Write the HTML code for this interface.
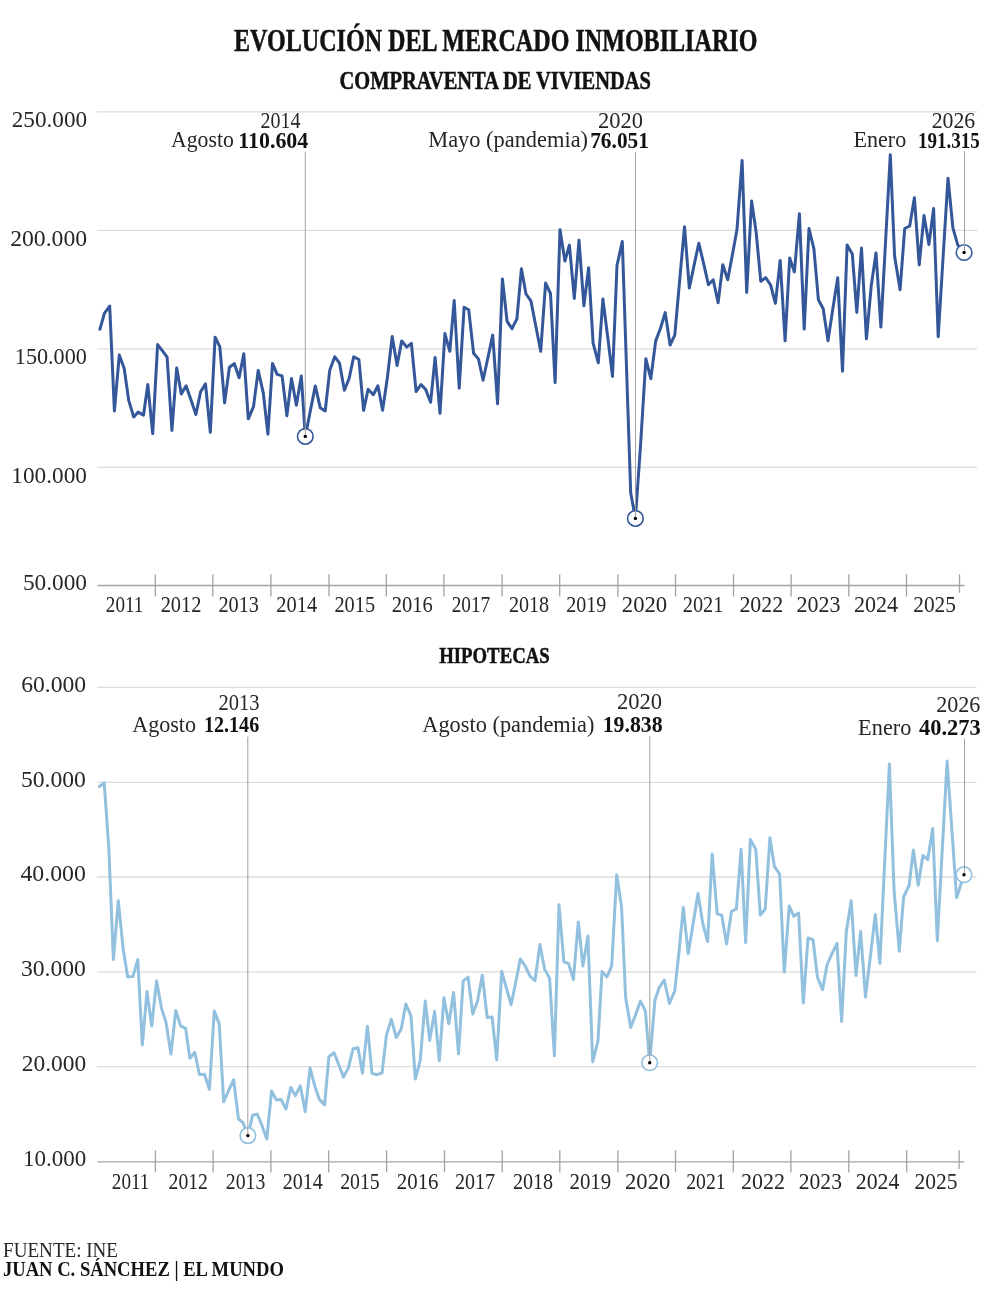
<!DOCTYPE html>
<html><head><meta charset="utf-8"><title>Evolución del mercado inmobiliario</title>
<style>html,body{margin:0;padding:0;background:#fff;}body{width:990px;height:1304px;overflow:hidden;font-family:"Liberation Serif",serif;}
svg{display:block;will-change:transform;}</style></head>
<body><svg width="990" height="1304" viewBox="0 0 990 1304">
<line x1="97" x2="977.2" y1="111.8" y2="111.8" stroke="#dcdcdc" stroke-width="1.3"/>
<line x1="97" x2="977.2" y1="230.4" y2="230.4" stroke="#dcdcdc" stroke-width="1.3"/>
<line x1="97" x2="977.2" y1="348.8" y2="348.8" stroke="#dcdcdc" stroke-width="1.3"/>
<line x1="97" x2="977.2" y1="467.4" y2="467.4" stroke="#dcdcdc" stroke-width="1.3"/>
<line x1="97.4" x2="964.7" y1="585.5" y2="585.5" stroke="#a3a3a3" stroke-width="1.3"/>
<line x1="155.3" x2="155.3" y1="574.2" y2="596.6" stroke="#a3a3a3" stroke-width="1.3"/>
<line x1="212.8" x2="212.8" y1="574.2" y2="596.6" stroke="#a3a3a3" stroke-width="1.3"/>
<line x1="270.9" x2="270.9" y1="574.2" y2="596.6" stroke="#a3a3a3" stroke-width="1.3"/>
<line x1="329.0" x2="329.0" y1="574.2" y2="596.6" stroke="#a3a3a3" stroke-width="1.3"/>
<line x1="386.3" x2="386.3" y1="574.2" y2="596.6" stroke="#a3a3a3" stroke-width="1.3"/>
<line x1="443.9" x2="443.9" y1="574.2" y2="596.6" stroke="#a3a3a3" stroke-width="1.3"/>
<line x1="502.1" x2="502.1" y1="574.2" y2="596.6" stroke="#a3a3a3" stroke-width="1.3"/>
<line x1="559.7" x2="559.7" y1="574.2" y2="596.6" stroke="#a3a3a3" stroke-width="1.3"/>
<line x1="617.9" x2="617.9" y1="574.2" y2="596.6" stroke="#a3a3a3" stroke-width="1.3"/>
<line x1="675.5" x2="675.5" y1="574.2" y2="596.6" stroke="#a3a3a3" stroke-width="1.3"/>
<line x1="733.5" x2="733.5" y1="574.2" y2="596.6" stroke="#a3a3a3" stroke-width="1.3"/>
<line x1="791.1" x2="791.1" y1="574.2" y2="596.6" stroke="#a3a3a3" stroke-width="1.3"/>
<line x1="848.8" x2="848.8" y1="574.2" y2="596.6" stroke="#a3a3a3" stroke-width="1.3"/>
<line x1="906.5" x2="906.5" y1="574.2" y2="596.6" stroke="#a3a3a3" stroke-width="1.3"/>
<line x1="959.5" x2="959.5" y1="574.2" y2="592.8" stroke="#a3a3a3" stroke-width="1.3"/>
<line x1="97" x2="976.4" y1="687.4" y2="687.4" stroke="#dcdcdc" stroke-width="1.3"/>
<line x1="97" x2="976.4" y1="782.4" y2="782.4" stroke="#dcdcdc" stroke-width="1.3"/>
<line x1="97" x2="976.4" y1="877.0" y2="877.0" stroke="#dcdcdc" stroke-width="1.3"/>
<line x1="97" x2="976.4" y1="971.8" y2="971.8" stroke="#dcdcdc" stroke-width="1.3"/>
<line x1="97" x2="976.4" y1="1066.6" y2="1066.6" stroke="#dcdcdc" stroke-width="1.3"/>
<line x1="97.4" x2="964.3" y1="1161.8" y2="1161.8" stroke="#a3a3a3" stroke-width="1.3"/>
<line x1="155.4" x2="155.4" y1="1150.3" y2="1172.4" stroke="#a3a3a3" stroke-width="1.3"/>
<line x1="213.1" x2="213.1" y1="1150.3" y2="1172.4" stroke="#a3a3a3" stroke-width="1.3"/>
<line x1="270.9" x2="270.9" y1="1150.3" y2="1172.4" stroke="#a3a3a3" stroke-width="1.3"/>
<line x1="328.7" x2="328.7" y1="1150.3" y2="1172.4" stroke="#a3a3a3" stroke-width="1.3"/>
<line x1="386.6" x2="386.6" y1="1150.3" y2="1172.4" stroke="#a3a3a3" stroke-width="1.3"/>
<line x1="444.5" x2="444.5" y1="1150.3" y2="1172.4" stroke="#a3a3a3" stroke-width="1.3"/>
<line x1="502.2" x2="502.2" y1="1150.3" y2="1172.4" stroke="#a3a3a3" stroke-width="1.3"/>
<line x1="559.8" x2="559.8" y1="1150.3" y2="1172.4" stroke="#a3a3a3" stroke-width="1.3"/>
<line x1="617.9" x2="617.9" y1="1150.3" y2="1172.4" stroke="#a3a3a3" stroke-width="1.3"/>
<line x1="675.5" x2="675.5" y1="1150.3" y2="1172.4" stroke="#a3a3a3" stroke-width="1.3"/>
<line x1="733.3" x2="733.3" y1="1150.3" y2="1172.4" stroke="#a3a3a3" stroke-width="1.3"/>
<line x1="790.9" x2="790.9" y1="1150.3" y2="1172.4" stroke="#a3a3a3" stroke-width="1.3"/>
<line x1="848.8" x2="848.8" y1="1150.3" y2="1172.4" stroke="#a3a3a3" stroke-width="1.3"/>
<line x1="906.7" x2="906.7" y1="1150.3" y2="1172.4" stroke="#a3a3a3" stroke-width="1.3"/>
<line x1="959.1" x2="959.1" y1="1150.3" y2="1169" stroke="#a3a3a3" stroke-width="1.3"/>
<polyline points="99.9,329.3 104.4,313.4 109.7,306.0 114.4,410.9 119.3,355.0 124.2,368.5 128.7,400.4 133.7,417.0 138.2,412.1 143.5,415.2 147.8,384.5 152.7,433.6 157.6,344.6 162.3,350.7 167.1,357.2 171.9,430.5 176.7,367.9 181.3,394.0 186.1,385.7 191.0,400.1 195.9,414.5 200.6,391.8 205.5,383.9 210.3,432.3 215.1,337.2 219.8,346.7 224.6,402.9 229.4,367.3 234.3,363.6 239.1,377.7 243.8,353.7 248.3,418.8 253.5,406.6 258.2,370.4 263.3,393.1 267.9,434.2 272.5,363.4 277.1,374.4 282.1,375.9 286.9,415.8 291.5,378.6 296.4,405.3 301.3,375.9 305.3,436.4 310.3,411.0 315.3,385.9 320.2,407.7 325.2,411.0 329.7,370.6 334.7,356.7 339.5,363.2 344.4,390.2 349.1,378.5 353.7,356.7 358.9,359.5 363.6,410.4 368.1,389.3 373.3,394.7 377.9,385.8 382.6,410.2 387.3,378.3 392.2,336.6 397.1,365.5 401.7,340.9 406.7,347.1 411.4,343.4 416.1,391.6 421.0,384.5 425.6,389.4 430.6,402.3 435.1,357.5 440.0,413.3 444.9,333.6 449.8,351.3 454.2,300.5 459.2,388.2 464.1,307.2 468.7,309.7 473.6,353.3 478.5,359.1 483.1,380.2 487.9,357.7 492.7,335.1 497.6,403.8 502.4,279.0 507.1,321.3 512.0,328.7 516.9,318.9 521.4,268.8 526.0,294.0 530.9,300.9 535.8,326.0 540.7,351.3 545.6,283.1 550.5,293.5 555.1,382.6 560.0,229.7 564.9,261.0 569.4,245.1 574.3,298.4 579.0,240.2 583.9,305.8 588.6,267.8 593.1,343.2 598.3,362.9 602.9,299.0 607.8,337.8 612.5,376.4 617.0,265.4 622.3,241.5 626.8,376.0 630.7,493.0 635.4,518.4 640.5,446.0 645.9,358.8 650.8,378.7 655.7,340.9 660.6,328.0 665.2,312.6 670.1,345.0 674.8,335.1 679.6,281.0 684.5,226.7 689.3,288.1 694.0,265.6 698.8,243.2 703.7,263.8 708.4,284.7 713.2,279.8 718.1,302.8 722.8,264.8 727.7,279.8 732.3,255.2 737.0,229.5 742.1,160.4 746.7,292.4 751.6,200.9 756.1,232.0 760.8,281.3 765.7,277.6 770.6,285.0 775.4,303.4 780.2,260.4 785.1,340.8 789.7,258.0 794.4,271.9 799.4,213.8 804.2,329.1 809.0,228.5 813.9,248.8 818.4,299.8 823.2,308.8 828.0,340.8 832.8,309.1 837.7,277.7 842.5,371.2 847.1,244.9 852.3,254.1 856.8,312.4 861.5,248.0 866.4,338.8 871.3,285.4 876.0,252.9 880.9,327.1 885.6,241.0 890.3,154.7 894.6,256.3 900.1,289.7 904.7,228.5 909.7,226.0 914.4,197.8 919.2,264.9 924.0,215.6 928.9,244.5 933.6,208.6 938.2,336.7 943.1,257.0 948.0,178.2 952.9,227.9 957.8,245.1 964.1,252.5" fill="none" stroke="#34579a" stroke-width="3" stroke-linejoin="round" stroke-linecap="round"/>
<polyline points="99.3,786.6 104.2,782.9 108.8,848.0 113.4,959.6 118.3,900.7 123.1,948.6 127.6,976.8 132.9,976.6 137.8,959.6 142.3,1044.9 147.0,991.5 151.7,1025.9 156.6,981.1 161.5,1008.1 166.0,1022.2 170.9,1054.1 175.8,1010.6 180.7,1025.9 185.6,1028.3 189.9,1058.4 194.8,1052.3 199.4,1074.5 204.5,1074.2 209.4,1089.3 214.3,1011.0 219.2,1023.9 223.7,1101.8 228.6,1090.5 233.6,1079.8 238.5,1119.0 243.0,1122.7 247.9,1135.6 252.6,1115.3 257.2,1114.1 261.8,1125.0 266.8,1139.0 271.6,1091.0 276.5,1100.0 281.0,1099.4 285.9,1109.2 290.8,1087.4 295.4,1095.7 300.3,1085.9 305.2,1111.7 310.1,1068.1 314.8,1085.9 319.4,1099.4 324.6,1104.9 328.9,1056.7 334.0,1052.8 338.8,1064.8 343.5,1077.1 348.4,1067.9 353.1,1048.7 358.0,1047.7 362.5,1073.2 367.4,1026.2 372.0,1073.4 377.2,1074.7 382.1,1072.8 386.4,1035.4 391.3,1019.2 396.3,1037.6 401.2,1029.0 405.8,1004.1 411.0,1015.8 415.3,1079.0 420.2,1060.6 425.2,1001.1 429.7,1040.4 434.6,1011.5 439.3,1060.6 443.9,997.8 448.8,1023.8 453.6,992.5 458.5,1053.9 463.2,980.9 468.1,977.2 472.8,1014.0 477.5,1001.3 482.3,975.2 487.2,1017.5 492.1,1016.9 496.7,1059.9 501.7,971.3 506.4,988.1 511.1,1004.7 515.8,982.0 520.3,959.0 525.2,966.0 530.1,976.4 535.0,980.7 539.9,944.5 544.6,969.1 549.6,978.3 554.4,1055.8 559.0,904.7 563.9,961.8 568.5,963.4 573.4,979.6 578.3,921.9 582.9,966.1 587.9,936.0 592.7,1061.8 598.0,1041.0 602.0,971.6 606.9,977.1 611.7,965.8 616.7,874.7 621.6,907.2 625.6,997.5 630.7,1027.5 635.7,1014.5 640.5,1001.1 645.4,1011.2 649.7,1062.7 654.9,1000.3 659.1,987.7 664.3,980.2 669.4,1003.4 674.7,991.0 679.0,952.0 683.3,907.4 688.2,953.5 693.1,923.7 698.0,893.6 702.7,923.1 707.6,941.5 712.2,854.1 717.2,913.9 721.7,915.1 726.6,943.9 731.5,911.4 736.4,909.0 741.1,849.2 745.6,942.7 750.4,839.5 755.8,849.4 760.3,915.1 765.2,909.0 769.9,837.8 774.4,866.6 779.6,874.0 784.3,972.1 789.2,905.9 793.8,916.3 798.6,913.0 803.3,1003.1 808.0,938.0 813.0,939.7 817.5,977.5 822.6,989.6 827.1,964.5 832.1,953.4 837.0,943.4 841.6,1021.5 846.3,932.0 851.2,900.7 856.0,975.5 860.6,931.4 865.5,997.1 870.3,956.7 875.3,914.4 879.9,963.4 884.6,864.0 889.4,764.1 894.1,891.0 899.3,951.2 903.6,897.0 909.1,885.5 913.4,850.0 918.2,885.2 922.9,855.4 927.7,859.7 932.7,828.6 937.3,940.7 942.2,851.0 947.1,761.1 951.8,828.6 956.6,897.7 964.0,874.7" fill="none" stroke="#92c0df" stroke-width="3" stroke-linejoin="round" stroke-linecap="round"/>
<circle cx="305.3" cy="436.4" r="7.8" fill="#fff" stroke="#34579a" stroke-width="1.6"/>
<line x1="305.3" x2="305.3" y1="151.5" y2="436.4" stroke="#a0a0a0" stroke-width="1"/>
<circle cx="305.3" cy="436.4" r="1.7" fill="#000"/>
<circle cx="635.4" cy="518.4" r="7.8" fill="#fff" stroke="#34579a" stroke-width="1.6"/>
<line x1="635.5" x2="635.5" y1="152.0" y2="518.4" stroke="#a0a0a0" stroke-width="1"/>
<circle cx="635.4" cy="518.4" r="1.7" fill="#000"/>
<circle cx="964.1" cy="252.5" r="7.8" fill="#fff" stroke="#34579a" stroke-width="1.6"/>
<line x1="964.5" x2="964.5" y1="151.2" y2="252.5" stroke="#a0a0a0" stroke-width="1"/>
<circle cx="964.1" cy="252.5" r="1.7" fill="#000"/>
<circle cx="247.9" cy="1135.6" r="7.8" fill="#fff" stroke="#92c0df" stroke-width="1.6"/>
<line x1="247.8" x2="247.8" y1="736.7" y2="1135.6" stroke="#a0a0a0" stroke-width="1"/>
<circle cx="247.9" cy="1135.6" r="1.7" fill="#000"/>
<circle cx="649.7" cy="1062.7" r="7.8" fill="#fff" stroke="#92c0df" stroke-width="1.6"/>
<line x1="649.8" x2="649.8" y1="736.2" y2="1062.7" stroke="#a0a0a0" stroke-width="1"/>
<circle cx="649.7" cy="1062.7" r="1.7" fill="#000"/>
<circle cx="964.0" cy="874.7" r="7.8" fill="#fff" stroke="#92c0df" stroke-width="1.6"/>
<line x1="964.5" x2="964.5" y1="738.8" y2="874.7" stroke="#a0a0a0" stroke-width="1"/>
<circle cx="964.0" cy="874.7" r="1.7" fill="#000"/>
<g font-family="'Liberation Serif', serif" fill="#262626">
<text x="234.01" y="50.60" font-size="31.00" font-weight="bold" fill="#111" stroke="#111" stroke-width="0.5" textLength="523.38" lengthAdjust="spacingAndGlyphs">EVOLUCIÓN DEL MERCADO INMOBILIARIO</text>
<text x="339.56" y="88.70" font-size="24.50" font-weight="bold" fill="#111" stroke="#111" stroke-width="0.5" textLength="311.30" lengthAdjust="spacingAndGlyphs">COMPRAVENTA DE VIVIENDAS</text>
<text x="439.17" y="663.40" font-size="23.60" font-weight="bold" fill="#111" stroke="#111" stroke-width="0.5" textLength="110.54" lengthAdjust="spacingAndGlyphs">HIPOTECAS</text>
<text x="11.78" y="127.30" font-size="24.00" textLength="75.27" lengthAdjust="spacingAndGlyphs">250.000</text>
<text x="10.13" y="245.90" font-size="24.00" textLength="77.02" lengthAdjust="spacingAndGlyphs">200.000</text>
<text x="14.86" y="364.40" font-size="24.00" textLength="71.94" lengthAdjust="spacingAndGlyphs">150.000</text>
<text x="11.34" y="483.00" font-size="24.00" textLength="75.59" lengthAdjust="spacingAndGlyphs">100.000</text>
<text x="22.98" y="589.80" font-size="24.00" textLength="64.05" lengthAdjust="spacingAndGlyphs">50.000</text>
<text x="21.14" y="691.50" font-size="24.00" textLength="65.05" lengthAdjust="spacingAndGlyphs">60.000</text>
<text x="20.98" y="786.50" font-size="24.00" textLength="64.92" lengthAdjust="spacingAndGlyphs">50.000</text>
<text x="20.47" y="881.30" font-size="24.00" textLength="65.40" lengthAdjust="spacingAndGlyphs">40.000</text>
<text x="20.97" y="976.00" font-size="24.00" textLength="64.94" lengthAdjust="spacingAndGlyphs">30.000</text>
<text x="21.78" y="1070.70" font-size="24.00" textLength="64.36" lengthAdjust="spacingAndGlyphs">20.000</text>
<text x="22.89" y="1165.70" font-size="24.00" textLength="63.31" lengthAdjust="spacingAndGlyphs">10.000</text>
<text x="105.84" y="612.40" font-size="24.00" textLength="37.52" lengthAdjust="spacingAndGlyphs">2011</text>
<text x="160.65" y="612.40" font-size="24.00" textLength="40.75" lengthAdjust="spacingAndGlyphs">2012</text>
<text x="218.46" y="612.40" font-size="24.00" textLength="40.56" lengthAdjust="spacingAndGlyphs">2013</text>
<text x="276.26" y="612.40" font-size="24.00" textLength="40.87" lengthAdjust="spacingAndGlyphs">2014</text>
<text x="334.46" y="612.40" font-size="24.00" textLength="40.58" lengthAdjust="spacingAndGlyphs">2015</text>
<text x="391.85" y="612.40" font-size="24.00" textLength="40.95" lengthAdjust="spacingAndGlyphs">2016</text>
<text x="451.63" y="612.40" font-size="24.00" textLength="38.63" lengthAdjust="spacingAndGlyphs">2017</text>
<text x="508.90" y="612.40" font-size="24.00" textLength="40.22" lengthAdjust="spacingAndGlyphs">2018</text>
<text x="566.27" y="612.40" font-size="24.00" textLength="40.02" lengthAdjust="spacingAndGlyphs">2019</text>
<text x="621.85" y="612.40" font-size="24.00" textLength="45.37" lengthAdjust="spacingAndGlyphs">2020</text>
<text x="682.85" y="612.40" font-size="24.00" textLength="40.56" lengthAdjust="spacingAndGlyphs">2021</text>
<text x="739.38" y="612.40" font-size="24.00" textLength="43.94" lengthAdjust="spacingAndGlyphs">2022</text>
<text x="796.45" y="612.40" font-size="24.00" textLength="43.92" lengthAdjust="spacingAndGlyphs">2023</text>
<text x="853.90" y="612.40" font-size="24.00" textLength="44.11" lengthAdjust="spacingAndGlyphs">2024</text>
<text x="913.23" y="612.40" font-size="24.00" textLength="42.64" lengthAdjust="spacingAndGlyphs">2025</text>
<text x="111.84" y="1189.30" font-size="24.00" textLength="37.52" lengthAdjust="spacingAndGlyphs">2011</text>
<text x="168.58" y="1189.30" font-size="24.00" textLength="39.35" lengthAdjust="spacingAndGlyphs">2012</text>
<text x="225.77" y="1189.30" font-size="24.00" textLength="39.48" lengthAdjust="spacingAndGlyphs">2013</text>
<text x="282.68" y="1189.30" font-size="24.00" textLength="40.07" lengthAdjust="spacingAndGlyphs">2014</text>
<text x="340.18" y="1189.30" font-size="24.00" textLength="39.60" lengthAdjust="spacingAndGlyphs">2015</text>
<text x="396.82" y="1189.30" font-size="24.00" textLength="41.68" lengthAdjust="spacingAndGlyphs">2016</text>
<text x="454.94" y="1189.30" font-size="24.00" textLength="40.03" lengthAdjust="spacingAndGlyphs">2017</text>
<text x="512.89" y="1189.30" font-size="24.00" textLength="40.25" lengthAdjust="spacingAndGlyphs">2018</text>
<text x="569.45" y="1189.30" font-size="24.00" textLength="41.82" lengthAdjust="spacingAndGlyphs">2019</text>
<text x="624.99" y="1189.30" font-size="24.00" textLength="45.34" lengthAdjust="spacingAndGlyphs">2020</text>
<text x="686.26" y="1189.30" font-size="24.00" textLength="39.32" lengthAdjust="spacingAndGlyphs">2021</text>
<text x="741.05" y="1189.30" font-size="24.00" textLength="43.99" lengthAdjust="spacingAndGlyphs">2022</text>
<text x="798.84" y="1189.30" font-size="24.00" textLength="43.09" lengthAdjust="spacingAndGlyphs">2023</text>
<text x="855.83" y="1189.30" font-size="24.00" textLength="43.59" lengthAdjust="spacingAndGlyphs">2024</text>
<text x="914.42" y="1189.30" font-size="24.00" textLength="43.02" lengthAdjust="spacingAndGlyphs">2025</text>
<text x="260.39" y="127.50" font-size="23.20" textLength="40.02" lengthAdjust="spacingAndGlyphs">2014</text>
<text x="171.00" y="147.40" font-size="23.10" textLength="62.84" lengthAdjust="spacingAndGlyphs">Agosto</text>
<text x="238.17" y="147.60" font-size="23.70" font-weight="bold" fill="#111" textLength="70.19" lengthAdjust="spacingAndGlyphs">110.604</text>
<text x="597.93" y="127.50" font-size="23.20" textLength="44.95" lengthAdjust="spacingAndGlyphs">2020</text>
<text x="428.25" y="147.40" font-size="23.10" textLength="159.78" lengthAdjust="spacingAndGlyphs">Mayo (pandemia)</text>
<text x="590.20" y="147.60" font-size="23.70" font-weight="bold" fill="#111" textLength="58.74" lengthAdjust="spacingAndGlyphs">76.051</text>
<text x="931.65" y="127.50" font-size="23.20" textLength="43.57" lengthAdjust="spacingAndGlyphs">2026</text>
<text x="853.54" y="147.40" font-size="23.10" textLength="52.66" lengthAdjust="spacingAndGlyphs">Enero</text>
<text x="917.99" y="147.60" font-size="23.70" font-weight="bold" fill="#111" textLength="61.82" lengthAdjust="spacingAndGlyphs">191.315</text>
<text x="218.38" y="709.60" font-size="23.20" textLength="41.07" lengthAdjust="spacingAndGlyphs">2013</text>
<text x="132.22" y="732.30" font-size="23.10" textLength="63.84" lengthAdjust="spacingAndGlyphs">Agosto</text>
<text x="203.88" y="732.20" font-size="23.70" font-weight="bold" fill="#111" textLength="55.32" lengthAdjust="spacingAndGlyphs">12.146</text>
<text x="616.97" y="709.20" font-size="23.20" textLength="45.18" lengthAdjust="spacingAndGlyphs">2020</text>
<text x="422.22" y="732.30" font-size="23.10" textLength="172.13" lengthAdjust="spacingAndGlyphs">Agosto (pandemia)</text>
<text x="602.64" y="732.00" font-size="23.70" font-weight="bold" fill="#111" textLength="60.04" lengthAdjust="spacingAndGlyphs">19.838</text>
<text x="936.21" y="711.90" font-size="23.20" textLength="44.22" lengthAdjust="spacingAndGlyphs">2026</text>
<text x="858.11" y="734.80" font-size="23.10" textLength="53.29" lengthAdjust="spacingAndGlyphs">Enero</text>
<text x="918.98" y="734.90" font-size="23.70" font-weight="bold" fill="#111" textLength="61.83" lengthAdjust="spacingAndGlyphs">40.273</text>
<text x="3.12" y="1256.50" font-size="21.90" textLength="114.86" lengthAdjust="spacingAndGlyphs">FUENTE: INE</text>
<text x="2.95" y="1276.30" font-size="21.30" font-weight="bold" fill="#111" textLength="280.99" lengthAdjust="spacingAndGlyphs">JUAN C. SÁNCHEZ | EL MUNDO</text>
</g>
</svg></body></html>
